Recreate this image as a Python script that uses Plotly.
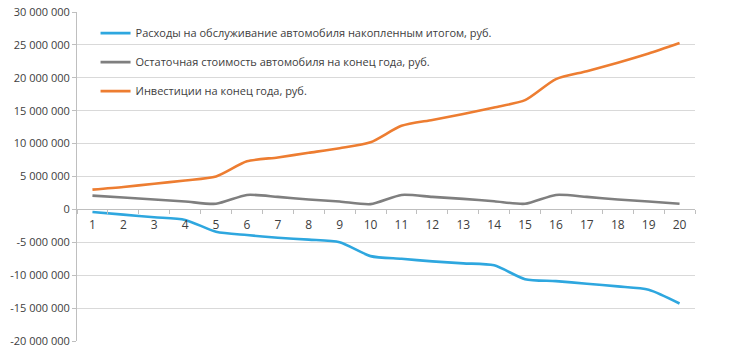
import plotly.graph_objects as go

years = [str(i) for i in range(1, 21)]

expenses = [-0.4e6, -0.8e6, -1.2e6, -1.6e6, -3.4e6, -3.9e6, -4.3e6, -4.6e6, -5.0e6, -7.1e6,
            -7.5e6, -7.9e6, -8.2e6, -8.5e6, -10.6e6, -10.9e6, -11.3e6, -11.7e6, -12.2e6, -14.3e6]
residual = [2.1e6, 1.8e6, 1.5e6, 1.2e6, 0.85e6, 2.2e6, 1.9e6, 1.5e6, 1.2e6, 0.8e6,
            2.2e6, 1.9e6, 1.6e6, 1.25e6, 0.85e6, 2.2e6, 1.9e6, 1.5e6, 1.2e6, 0.85e6]
invest = [3.0e6, 3.4e6, 3.9e6, 4.4e6, 5.0e6, 7.3e6, 7.9e6, 8.6e6, 9.3e6, 10.2e6,
          12.7e6, 13.6e6, 14.5e6, 15.5e6, 16.6e6, 19.8e6, 21.0e6, 22.3e6, 23.7e6, 25.3e6]

names = ["Расходы на обслуживание автомобиля накопленным итогом, руб.",
         "Остаточная стоимость автомобиля на конец года, руб.",
         "Инвестиции на конец года, руб."]
colors = ["#2EA7DF", "#7F7F7F", "#ED7D31"]

ytickvals = [30e6, 25e6, 20e6, 15e6, 10e6, 5e6, 0, -5e6, -10e6, -15e6, -20e6]
yticktext = ["30 000 000", "25 000 000", "20 000 000", "15 000 000", "10 000 000", "5 000 000",
             "0", "-5 000 000", "-10 000 000", "-15 000 000", "-20 000 000"]

fig = go.Figure()
for i, (vals, nm, c) in enumerate(zip([expenses, residual, invest], names, colors)):
    fig.add_trace(go.Scatter(
        x=years, y=vals, name=nm, mode="lines",
        line=dict(color=c, width=2.6, shape="spline", smoothing=0.7),
        legendgroup=f"g{i}",
    ))

fig.update_layout(
    width=732, height=352,
    margin=dict(l=77, r=37, t=12, b=11),
    paper_bgcolor="white", plot_bgcolor="white",
    font=dict(family="Open Sans", size=11, color="#404040"),
    showlegend=True,
    legend=dict(x=0.03, y=0.98, xanchor="left", yanchor="top",
                bgcolor="rgba(0,0,0,0)", tracegroupgap=10,
                font=dict(size=11, color="#404040"), itemwidth=30),
    xaxis=dict(type="category", range=[-0.5, 19.5], anchor="free", position=0.4,
               showline=True, linecolor="#BFBFBF", linewidth=1, automargin=False,
               ticks="outside", ticklen=4, tickcolor="#BFBFBF", tickson="boundaries",
               ticklabelstandoff=4,
               showgrid=False, tickfont=dict(size=12, color="#404040")),
    yaxis=dict(range=[-20e6, 30e6], tickvals=ytickvals, ticktext=yticktext, automargin=False,
               showgrid=True, gridcolor="#D9D9D9", gridwidth=1, zeroline=False,
               showline=True, linecolor="#BFBFBF", ticks="outside", ticklen=4,
               tickcolor="#BFBFBF", tickfont=dict(size=11, color="#404040")),
)

fig.write_html("out.html")
